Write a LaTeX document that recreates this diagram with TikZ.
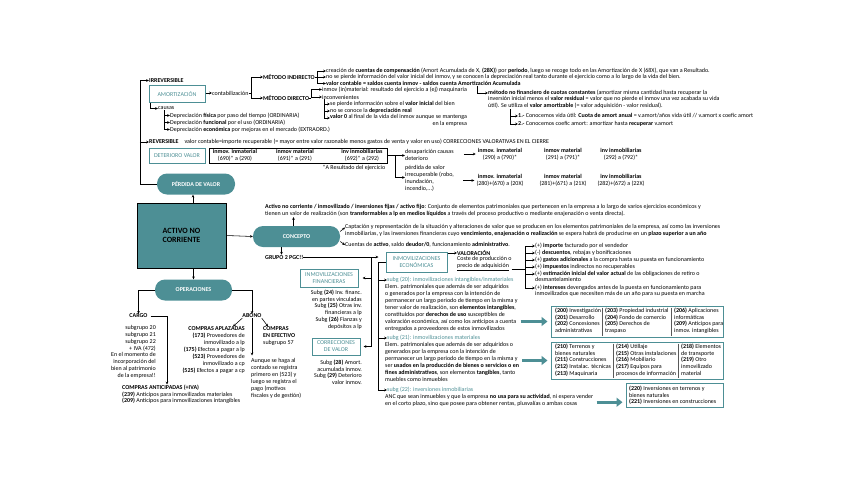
\documentclass[tikz,border=0pt]{standalone}
\usepackage{fontspec}
\setmainfont{Carlito}
\usetikzlibrary{positioning,arrows.meta,calc}
\definecolor{teal1}{RGB}{77,143,149}
\newcommand{\fsz}{\fontsize{6}{6.9}\selectfont}

\begin{document}
\begin{tikzpicture}[
    x=1pt, y=-1pt,
    font=\fsz,
    >={Stealth[length=2.8pt,width=2.6pt]},
    txt/.style={inner sep=0pt, anchor=west},
    hd/.style={txt, font=\fsz\bfseries},
    para/.style={inner sep=0pt, anchor=north west, align=left},
    parar/.style={inner sep=0pt, anchor=north east, align=right},
    col/.style={inner sep=0pt, align=center},
    pill/.style={fill=teal1, rounded corners=10pt, text=white, font=\fsz\bfseries, minimum height=21pt},
    tbox/.style={draw=teal1, line width=1pt, text=teal1, align=center, inner sep=2pt},
    frame/.style={draw=teal1, line width=1pt},
    ttl/.style={txt, text=teal1},
    flow/.style={->, line width=0.55pt},
    line/.style={line width=0.55pt},
    sep/.style={draw=black!65, line width=0.8pt},
    bigarr/.style={-{Triangle[length=6pt,width=9pt]}, line width=3pt, draw=teal1},
]
\useasboundingbox (0,0) rectangle (848,477);

% ---- Centre -------------------------------------------------------
\node[draw=black, line width=0.8pt, fill=teal1, minimum width=89pt, minimum height=65pt,
      align=center, font=\fontsize{8}{9.5}\selectfont\bfseries] (anc) at (181.5,235.5) {ACTIVO NO\\CORRIENTE};
\node[pill, minimum width=78pt] (perd) at (196,184) {PÉRDIDA DE VALOR};
\node[pill, minimum width=87pt] (conc) at (296.5,236.5) {CONCEPTO};
\node[pill, minimum width=77pt] (ops) at (193.5,290) {OPERACIONES};

\draw[flow] ([xshift=-3pt]perd.south |- anc.north) -- ([xshift=-3pt]perd.south);
\draw[flow] (anc.east) -- (conc.west);
\draw[flow] (ops.north |- anc.south) -- (ops.north);

% ---- Perdida de valor: irreversible ---------------------------------
\node[hd] (irrev) at (149,80.5) {IRREVERSIBLE};
\node[txt] (rev) at (149,142) {\textbf{REVERSIBLE}\quad valor contable=importe recuperable (= mayor entre valor razonable menos gastos de venta y valor en uso) CORRECCIONES VALORATIVAS EN EL CIERRE};
\coordinate (sp) at ($(perd.west)+(-17,0)$);
\draw[flow] (perd.west) -- (sp) |- (irrev.west);
\draw[flow] (sp |- rev.west) -- (rev.west);

\node[tbox, minimum width=56pt, minimum height=16.5pt] (amort) at (177,94) {AMORTIZACIÓN};
\node[txt] (contab) at (212,93) {contabilización};
\draw[flow] (amort.east |- contab.west) -- (contab.west);
\node[hd] (mind) at (263,77) {MÉTODO INDIRECTO};
\node[hd] (mdir) at (263,98) {MÉTODO DIRECTO};
\draw[line] (contab.east) -- ++(3,0) coordinate (cb);
\draw[flow] (cb) |- (mind.west);
\draw[flow] (cb) |- (mdir.west);

\node[txt] (i1) at (326,71) {creación de \textbf{cuentas de compensación} (Amort Acumulada de X, \textbf{(28X)}) por \textbf{periodo}, luego se recoge todo en las Amortización de X (68X), que van a Resultado.};
\node[txt] (i2) at (326,77) {no se pierde información del valor inicial del inmov, y se conocen la depreciación real tanto durante el ejercicio como a lo largo de la vida del bien.};
\node[hd] (i3) at (326,83.5) {valor contable = saldos cuenta inmov - saldos cuenta Amortización Acumulada};
\draw[line] (mind.east) -- ++(2,0) coordinate (bi);
\draw[flow] (bi) |- (i1.west);
\draw[flow] (bi) |- (i2.west);
\draw[flow] (bi) |- (i3.west);

\node[txt] (d1) at (322,89.5) {inmov (in)material: resultado del ejercicio a (ej) maquinaria};
\node[txt] (d2) at (322,97) {inconvenientes};
\draw[line] (mdir.east) -- ++(2,0) coordinate (bd);
\draw[flow] (bd) |- (d1.west);
\draw[flow] (bd) |- (d2.west);

\node[txt] (c1) at (330,104) {se pierde información sobre el \textbf{valor inicial} del bien};
\node[txt] (c2) at (330,111) {no se conoce la \textbf{depreciación real}};
\node[para, align=right] (c3) at (330,114.5) {\textbf{valor 0} al final de la vida del inmov aunque se mantenga\\en la empresa};
\coordinate (bc) at ([xshift=2pt]d2.south west);
\draw[flow] (bc) |- (c1.west);
\draw[flow] (bc) |- (c2.west);
\draw[flow] (bc) |- ([yshift=-3.5pt]c3.north west);

\node[para] (m1) at (488,89.5) {\textbf{método no financiero de cuotas constantes} (amortizar misma cantidad hasta recuperar la\\inversión inicial menos el \textbf{valor residual} = valor que no pierde el inmov una vez acabada su vida\\útil). Se utiliza el \textbf{valor amortizable} (= valor adquisición - valor residual).};
\coordinate (mk) at (477,86);
\draw[flow] (mk) |- ([yshift=-3.5pt]m1.north west);
\node[txt] (q1) at (518,116) {\textbf{1.-} Conocemos vida útil: \textbf{Cuota de amort anual} = v.amort/años vida útil // v.amort x coefic amort};
\node[txt] (q2) at (518,124) {\textbf{2.-} Conocemos coefic amort: amortizar hasta \textbf{recuperar} v.amort};
\coordinate (bq) at ($(m1.south west)+(22,0)$);
\draw[flow] (bq) |- (q1.west);
\draw[flow] (bq) |- (q2.west);

\node[txt] (causas) at (158,108.5) {causas};
\draw[flow] ([xshift=2pt]amort.south west) |- (causas.west);
\node[txt] (f1) at (170,115.5) {Depreciación \textbf{física} por paso del tiempo (ORDINARIA)};
\node[txt] (f2) at (170,122.5) {Depreciación \textbf{funcional} por el uso (ORDINARIA)};
\node[txt] (f3) at (170,129.5) {Depreciación \textbf{económica} por mejoras en el mercado (EXTRAORD.)};
\coordinate (bf) at ([xshift=6pt]causas.south west);
\draw[flow] (bf) |- (f1.west);
\draw[flow] (bf) |- (f2.west);
\draw[flow] (bf) |- (f3.west);

% ---- Perdida de valor: reversible -----------------------------------
\node[tbox, minimum width=56pt, minimum height=15pt] (det) at (177,155.5) {DETERIORO VALOR};
\node[draw, line width=0.8pt, minimum width=178pt, minimum height=15pt] (tab) at (298,155.5) {};
\node[col] (t1) at (235,155.5) {\textbf{inmov. inmaterial}\\(690)* a (290)};
\node[col] (t2) at (295,155.5) {\textbf{inmov material}\\(691)* a (291)};
\node[col] (t3) at (362,155.5) {\textbf{inv inmobiliarias}\\(692)* a (292)};
\node[parar] (ares) at ($(tab.south east)+(-2,1.5)$) {*A Resultado del ejercicio};

\node[para] (dc) at (405,149) {desaparición causas\\deterioro};
\node[para] (pv) at (405,165.5) {pérdida de valor\\irrecuperable (robo,\\inundación,\\incendio,...)};
\draw[line] (tab.east) -- ++(8,0) coordinate (bt);
\draw[flow] (bt) -- (bt -| dc.west);
\draw[flow] (bt) |- ([yshift=-12pt]pv.north west);

\node[col] (ra1) at (500,154) {\textbf{inmov. inmaterial}\\(290) a (790)*};
\node[col] (ra2) at (563,154) {\textbf{inmov material}\\(291) a (791)*};
\node[col] (ra3) at (621,154) {\textbf{inv inmobiliarias}\\(292) a (792)*};
\node[col] (rb1) at (500,180.5) {\textbf{inmov. inmaterial}\\(280)+(670) a (20X)};
\node[col] (rb2) at (563,180.5) {\textbf{inmov material}\\(281)+(671) a (21X)};
\node[col] (rb3) at (621,180.5) {\textbf{inv inmobiliarias}\\(282)+(672) a (22X)};
\draw[flow, shorten <=10pt, shorten >=2pt] (dc.east |- ra1.west) -- (ra1.west);
\draw[flow, shorten <=9pt, shorten >=2pt] (pv.east |- rb1.west) -- (rb1.west);

% ---- Concepto -----------------------------------------------------
\node[para] (def) at (265,204.5) {\textbf{Activo no corriente / inmovilizado / inversiones fijas / activo fijo}: Conjunto de elementos patrimoniales que pertenecen en la empresa a lo largo de varios ejercicios económicos y\\tienen un valor de realización (son \textbf{transformables a lp en medios líquidos} a través del proceso productivo o mediante enajenación o venta directa).};
\draw[flow] ([xshift=-3pt]conc.north) -- ([xshift=-3pt]conc.north |- def.south);
\node[para] (cap) at (345,224.5) {Captación y representación de la situación y alteraciones de valor que se producen en los elementos patrimoniales de la empresa, así como las inversiones\\inmobiliarias, y las inversiones financieras cuyo \textbf{vencimiento, enajenación o realización} se espera habrá de producirse en un \textbf{plazo superior a un año}};
\node[txt] (cta) at (345,245) {Cuentas de \textbf{activo}, saldo \textbf{deudor/0}, funcionamiento \textbf{administrativo}.};
\draw[flow] ([yshift=5pt]conc.east) -- ([yshift=-3pt]cap.north west);
\draw[flow] ([yshift=-5pt]conc.east) -- (cta.west);

\node[hd] (grp) at (265,257) {GRUPO 2 PGC!!};
\draw[flow] ([xshift=-15pt]conc.south) -- ([xshift=-15pt]conc.south |- grp.north);

% ---- Inmovilizaciones ---------------------------------------------
\node[tbox, minimum width=61pt, minimum height=20pt] (ieco) at (416.5,262) {INMOVILIZACIONES\\ECONÓMICAS};
\node[tbox, minimum width=58pt, minimum height=18pt] (ifin) at (329,278) {INMOVILIZACIONES\\FINANCIERAS};
\node[tbox, minimum width=48pt, minimum height=17pt] (corr) at (336,346.5) {CORRECCIONES\\DE VALOR};
\draw[line] (ieco.west) -- ++(-7,0) coordinate (eb);
\draw[flow] (grp.east) -- (grp.east -| eb);
\coordinate (jn) at ($(grp.east -| eb)+(-7,0)$);
\draw[flow, shorten >=4pt] (jn) |- (ifin.east);
\draw[flow, shorten >=3pt] (jn) |- (corr.east);

\node[parar] (ifl) at (362,289.5) {Subg \textbf{(24)} Inv. financ.\\en partes vinculadas\\Subg \textbf{(25)} Otras inv.\\financieras a lp\\Subg \textbf{(26)} Fianzas y\\depósitos a lp};
\node[parar] (crl) at (362,359.5) {Subg \textbf{(28)} Amort.\\acumulada inmov.\\Subg \textbf{(29)} Deterioro\\valor inmov.};

\node[hd] (val) at (457,253) {VALORACIÓN};
\draw[flow] (ieco.east |- val.west) -- (val.west);
\node[para] (coste) at (457,256.5) {Coste de producción o\\\underline{precio de adquisición}};
\node[txt] (v1) at (535,246) {(+) \textbf{importe} facturado por el vendedor};
\node[txt] (v2) at (535,253) {(-) \textbf{descuentos}, rebajas y bonificaciones};
\node[txt] (v3) at (535,260) {(+) \textbf{gastos adicionales} a la compra hasta su puesta en funcionamiento};
\node[txt] (v4) at (535,267) {(+) \textbf{impuestos} indirectos no recuperables};
\node[para] (v5) at (535,270.5) {(+) \textbf{estimación inicial del valor actual} de las obligaciones de retiro o\\desmantelamiento};
\node[para] (v6) at (535,284.5) {(+) \textbf{intereses} devengados antes de la puesta en funcionamiento para\\inmovilizados que necesiten más de un año para su puesta en marcha};
\draw[line] ([yshift=2pt]coste.south east) -- ++(14,0) coordinate (vb);
\draw[flow] (vb) |- (v1.west);
\draw[flow] (vb) |- (v2.west);
\draw[flow] (vb) |- (v3.west);
\draw[flow] (vb) |- (v4.west);
\draw[flow] (vb) |- ([yshift=-3.5pt]v5.north west);
\draw[flow] (vb) |- ([yshift=-3.5pt]v6.north west);

\node[ttl] (s20) at (387,280) {subg (20): inmovilizaciones intangibles/inmateriales};
\node[para] (p20) at (385,284.5) {Elem. patrimoniales que además de ser adquiridos\\o generados por la empresa con la intención de\\permanecer un largo periodo de tiempo en la misma y\\tener valor de realización, son \textbf{elementos intangibles},\\constituidos por \textbf{derechos de uso} susceptibles de\\valoración económica, así como los anticipos a cuenta\\entregados a proveedores de estos inmovilizados};
\node[ttl] (s21) at (387,338) {subg (21): inmovilizaciones materiales};
\node[para] (p21) at (385,342.5) {Elem. patrimoniales que además de ser adquiridos o\\generados por la empresa con la intención de\\permanecer un largo periodo de tiempo en la misma y\\ser \textbf{usados en la producción de bienes o servicios o en}\\\textbf{fines administrativos}, son elementos \textbf{tangibles}, tanto\\muebles como inmuebles};
\node[ttl] (s22) at (387,390) {subg (22): inversiones inmobiliarias};
\node[para] (p22) at (385,394) {ANC que sean inmuebles y que la empresa \textbf{no usa para su actividad}, ni espera vender\\en el corto plazo, sino que posee para obtener rentas, plusvalías o ambas cosas};
\draw[flow] (eb) |- (s20.west);
\draw[flow] (eb) |- (s21.west);
\draw[flow] (eb) |- (s22.west);

% ---- Subgroup boxes -----------------------------------------------
\node[frame, minimum width=172pt, minimum height=31pt] (boxA) at (637,321.5) {};
\node[para] (a1) at (555,307.5) {\textbf{(200)} Investigación\\\textbf{(201)} Desarrollo\\\textbf{(202)} Concesiones\\administrativas};
\node[para] (a2) at (605,307.5) {\textbf{(203)} Propiedad industrial\\\textbf{(204)} Fondo de comercio\\\textbf{(205)} Derechos de\\traspaso};
\node[para] (a3) at (674,307.5) {\textbf{(206)} Aplicaciones\\informáticas\\\textbf{(209)} Anticipos para\\inmov. intangibles};
\draw[sep] ([xshift=-2.5pt]a2.north west) -- ([xshift=-2.5pt,yshift=2pt]a2.north west |- boxA.south);
\draw[sep] ([xshift=-2.5pt]a3.north west) -- ([xshift=-2.5pt,yshift=2pt]a3.north west |- boxA.south);

\node[frame, minimum width=172pt, minimum height=37pt] (boxB) at (637,360.5) {};
\node[para] (b1) at (555,343.5) {\textbf{(210)} Terrenos y\\bienes naturales\\\textbf{(211)} Construcciones\\\textbf{(212)} Instalac. técnicas\\\textbf{(213)} Maquinaria};
\node[para] (b2) at (616,343.5) {\textbf{(214)} Utillaje\\\textbf{(215)} Otras instalaciones\\\textbf{(216)} Mobiliario\\\textbf{(217)} Equipos para\\procesos de información};
\node[para] (b3) at (681,343.5) {\textbf{(218)} Elementos\\de transporte\\\textbf{(219)} Otro\\inmovilizado\\material};
\draw[sep] ([xshift=-2.5pt]b2.north west) -- ([xshift=-2.5pt,yshift=2pt]b2.north west |- boxB.south);
\draw[sep] ([xshift=-2.5pt]b3.north west) -- ([xshift=-2.5pt,yshift=2pt]b3.north west |- boxB.south);

\node[frame, minimum width=97pt, minimum height=24pt] (boxC) at (674.5,395) {};
\node[para] (cc) at (629,385.5) {\textbf{(220)} Inversiones en terrenos y\\bienes naturales\\\textbf{(221)} Inversiones en construcciones};

\draw[bigarr, shorten <=3pt, shorten >=3pt] (p20.east |- boxA.west) -- (boxA.west);
\draw[bigarr, shorten <=3pt, shorten >=3pt] (p21.east |- boxB.west) -- (boxB.west);
\draw[bigarr, shorten <=3pt, shorten >=3pt] ([yshift=-2pt]p22.east) -- ([yshift=-2pt]p22.east -| boxC.west);

% ---- Operaciones --------------------------------------------------
\node[hd, anchor=center] (cargo) at (138.5,316) {CARGO};
\node[hd, anchor=center] (abono) at (252,316) {ABONO};
\draw[flow] (ops.west) -| (cargo.north);
\draw[flow] (ops.east) -| (abono.north);

\node[parar] (cl) at (156,325) {subgrupo 20\\subgrupo 21\\subgrupo 22\\+ IVA (472)\\En el momento de\\incorporación del\\bien al patrimonio\\de la empresa!!};
\node[para] (cant) at (122,384.5) {\textbf{COMPRAS ANTICIPADAS (+IVA)}\\\textbf{(239)} Anticipos para inmovilizados materiales\\\textbf{(209)} Anticipos para inmovilizaciones intangibles};
\draw[flow] ([xshift=3pt]cargo.east) -| ([xshift=45pt]cant.north west);

\node[parar] (capl) at (245,326.5) {\textbf{COMPRAS APLAZADAS}\\\textbf{(173)} Proveedores de\\inmovilizado a lp\\\textbf{(175)} Efectos a pagar a lp\\\textbf{(523)} Proveedores de\\inmovilizado a cp\\\textbf{(525)} Efectos a pagar a cp};
\node[para] (cefe) at (263,326.5) {\textbf{COMPRAS}\\\textbf{EN EFECTIVO}\\subgrupo 57};
\node[para] (aunq) at (251,358.5) {Aunque se haga al\\contado se registra\\primero en (523) y\\luego se registra el\\pago (motivos\\fiscales y de gestión)};
\draw[flow] (abono.south west) -- ([xshift=-12pt]capl.north east);
\draw[flow] (abono.south east) -- ([xshift=5pt]cefe.north west);
\draw[flow, shorten >=3pt] (abono.south) -- (abono.south |- aunq.north);

\end{tikzpicture}
\end{document}
